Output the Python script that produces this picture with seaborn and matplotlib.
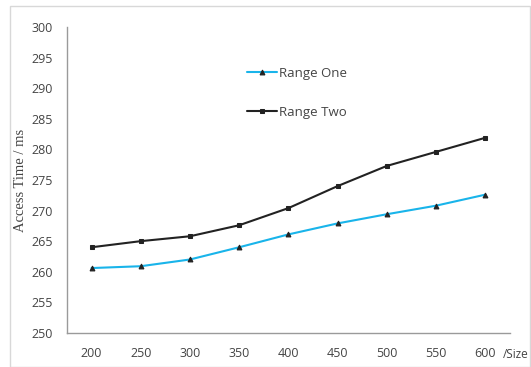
import numpy as np
import pandas as pd
import matplotlib
matplotlib.use("Agg")
import matplotlib.pyplot as plt
import seaborn as sns
from matplotlib.patches import Rectangle

sizes = [200, 250, 300, 350, 400, 450, 500, 550, 600]
range_one = [260.6, 260.9, 262.0, 264.0, 266.1, 267.9, 269.4, 270.8, 272.6]
range_two = [264.0, 265.0, 265.8, 267.6, 270.4, 274.0, 277.3, 279.6, 281.9]
series_names = ["Range One", "Range Two"]
y_ticks = list(range(250, 301, 5))

df = pd.DataFrame({
    "size": sizes * 2,
    "time": range_one + range_two,
    "series": [series_names[0]] * len(sizes) + [series_names[1]] * len(sizes),
})

sns.set_style("white")
plt.rcParams["font.family"] = ["Open Sans", "DejaVu Sans"]

fig = plt.figure(figsize=(5.31, 3.67), dpi=100)
ax = fig.add_axes([0.126, 0.093, 0.834, 0.833])

sns.lineplot(
    data=df, x="size", y="time", hue="series", style="series",
    palette={"Range One": "#19b4ea", "Range Two": "#222222"},
    markers={"Range One": "^", "Range Two": "s"}, dashes=False,
    markersize=3.5, linewidth=1.5, markeredgecolor="#222222",
    markerfacecolor="#222222", ax=ax,
)

ax.set_xlim(175, 625)
ax.set_ylim(250, 300)
ax.set_xticks(sizes)
ax.set_yticks(y_ticks)
ax.tick_params(axis="both", length=0, labelsize=9, colors="#444444")
ax.tick_params(axis="x", pad=10)
ax.tick_params(axis="y", pad=10)
for s in ["top", "right"]:
    ax.spines[s].set_visible(False)
for s in ["left", "bottom"]:
    ax.spines[s].set_color("#9a9a9a")
    ax.spines[s].set_linewidth(1.0)

ax.set_xlabel("")
ax.set_ylabel("Access Time / ms", family="Liberation Serif", fontsize=10.5,
              color="#444444", labelpad=3)
ax.text(0.985, -0.07, "/Size", transform=ax.transAxes, fontsize=8.5,
        color="#444444", va="center", ha="left")

leg = ax.legend(loc="upper left", bbox_to_anchor=(0.38, 0.91), frameon=False,
                fontsize=9.5, labelspacing=2.0, handlelength=2.3,
                handletextpad=0.15)
for t in leg.get_texts():
    t.set_color("#444444")

fig.patches.append(Rectangle((0.018, 0.0), 0.98, 0.984, transform=fig.transFigure,
                             fill=False, edgecolor="#d8d8d8", linewidth=1.0))

fig.savefig("out.png", dpi=100)
